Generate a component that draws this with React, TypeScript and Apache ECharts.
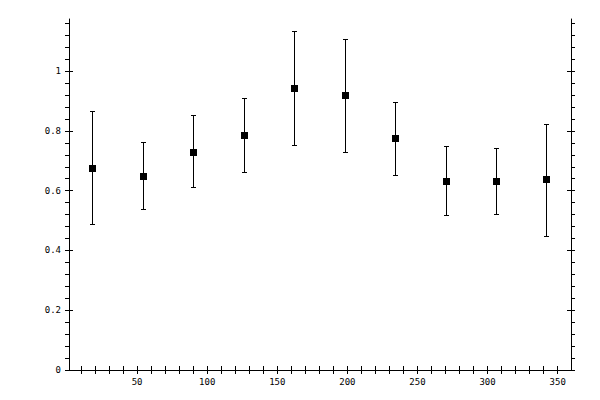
import { useEffect, useRef } from "react"
import * as echarts from "echarts"

// bin centres (x) and measured values with their error limits
const xs = [18, 54, 90, 126, 162, 198, 234, 270, 306, 342]
const ys = [0.677, 0.65, 0.73, 0.786, 0.943, 0.919, 0.775, 0.634, 0.634, 0.638]
const highs = [0.865, 0.764, 0.852, 0.909, 1.136, 1.109, 0.898, 0.75, 0.744, 0.822]
const lows = [0.487, 0.54, 0.611, 0.662, 0.752, 0.728, 0.651, 0.52, 0.523, 0.45]

const xLabels = [50, 100, 150, 200, 250, 300, 350]
const xMinor = [10, 20, 30, 40, 50, 60, 70, 80, 90, 100, 110, 120, 130, 140, 150, 160, 170, 180, 190, 200, 210, 220, 230, 240, 250, 260, 270, 280, 290, 300, 310, 320, 330, 340, 350]
const yLabels = [0, 0.2, 0.4, 0.6, 0.8, 1]
const yMinor = Array.from({ length: 30 }, (_, i) => +(i * 0.04).toFixed(2))

const X_MIN = 1.45
const X_MAX = 359.5
const Y_MIN = 0
const Y_MAX = 1.1745

const font = "DejaVu Sans Mono"

function xAxis(position: "top" | "bottom", inside: boolean, labels: boolean) {
  return {
    type: "value",
    position,
    min: X_MIN,
    max: X_MAX,
    splitLine: { show: false },
    axisLine: { show: !inside, lineStyle: { color: "#000", width: 1 } },
    axisTick: {
      show: true,
      inside,
      length: 4,
      customValues: inside ? xLabels : xMinor,
      lineStyle: { color: "#000", width: 1 },
    },
    axisLabel: {
      show: labels,
      customValues: xLabels,
      margin: 7,
      color: "#000",
      fontFamily: font,
      fontSize: 9,
    },
  }
}

function yAxis(position: "left" | "right", inside: boolean, labels: boolean) {
  return {
    type: "value",
    position,
    min: Y_MIN,
    max: Y_MAX,
    splitLine: { show: false },
    axisLine: { show: !inside, lineStyle: { color: "#000", width: 1 } },
    axisTick: {
      show: true,
      inside,
      length: 4,
      customValues: inside ? yLabels : yMinor,
      lineStyle: { color: "#000", width: 1 },
    },
    axisLabel: {
      show: labels,
      customValues: yLabels,
      margin: 8,
      color: "#000",
      fontFamily: font,
      fontSize: 9,
      showMinLabel: true,
      showMaxLabel: true,
    },
  }
}

export default function App() {
  const hostRef = useRef<HTMLDivElement>(null)

  useEffect(() => {
    const el = hostRef.current
    if (!el) return
    const chart = echarts.init(el, undefined, { renderer: "svg" })

    const points = xs.map((x, i) => [x, ys[i], lows[i], highs[i]])

    chart.setOption({
      animation: false,
      backgroundColor: "#fff",
      grid: { left: 69, right: 29, top: 19, bottom: 30, containLabel: false },
      xAxis: [
        xAxis("bottom", false, true),
        xAxis("bottom", true, false),
        xAxis("top", false, false),
        xAxis("top", true, false),
      ],
      yAxis: [
        yAxis("left", false, true),
        yAxis("left", true, false),
        yAxis("right", false, false),
        yAxis("right", true, false),
      ],
      series: [
        {
          type: "custom",
          data: points,
          renderItem: (_params: any, api: any) => {
            const x = api.value(0)
            const c = api.coord([x, api.value(1)])
            const lo = api.coord([x, api.value(2)])
            const hi = api.coord([x, api.value(3)])
            // snap to pixel grid so the 1px strokes stay crisp
            const px = Math.round(c[0]) + 0.5
            const yHi = Math.round(hi[1]) + 0.5
            const yLo = Math.round(lo[1]) + 0.5
            const cap = 2.5
            const style = { stroke: "#000", lineWidth: 1 }
            return {
              type: "group",
              children: [
                { type: "line", shape: { x1: px, y1: yHi, x2: px, y2: yLo }, style },
                { type: "line", shape: { x1: px - cap, y1: yHi, x2: px + cap, y2: yHi }, style },
                { type: "line", shape: { x1: px - cap, y1: yLo, x2: px + cap, y2: yLo }, style },
                {
                  type: "rect",
                  shape: { x: Math.round(c[0]) - 3, y: Math.round(c[1]) - 3, width: 7, height: 7 },
                  style: { fill: "#000" },
                },
              ],
            }
          },
        },
      ],
    })

    return () => {
      chart.dispose()
    }
  }, [])

  return (
    <div
      ref={hostRef}
      style={{ position: "absolute", left: 0, top: 0, width: 600, height: 400 }}
      role="img"
      aria-label="error bar chart"
    />
  )
}
